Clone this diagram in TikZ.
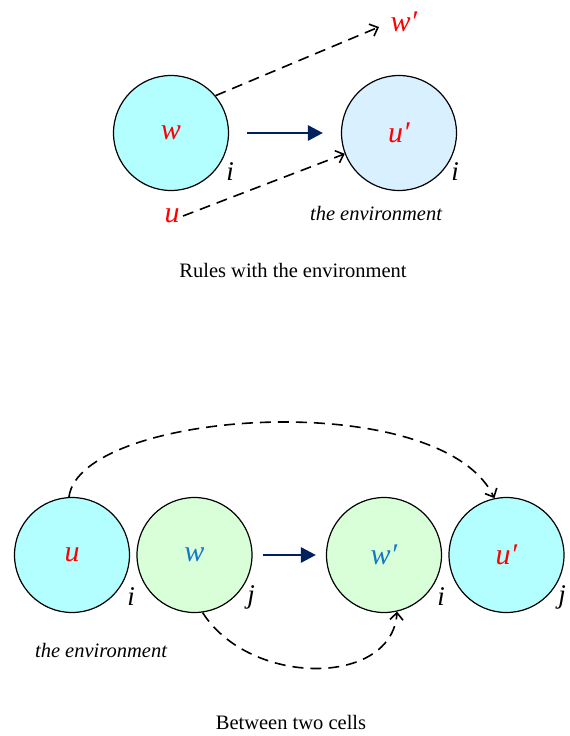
\documentclass[tikz,border=0pt]{standalone}
\usepackage{fontspec}
\setmainfont{Liberation Serif}
\usetikzlibrary{arrows.meta}
\definecolor{cyanfill}{RGB}{179,255,255}
\definecolor{bluefill}{RGB}{216,240,255}
\definecolor{greenfill}{RGB}{217,255,217}
\definecolor{navy}{RGB}{0,32,96}
\definecolor{txtblue}{RGB}{20,120,200}
\begin{document}
\begin{tikzpicture}[x=1pt,y=-1pt,
  cell/.style={circle,draw,line width=1.2pt,minimum size=115pt,inner sep=0pt},
  biglab/.style={font=\fontsize{30}{34}\selectfont\itshape},
  idx/.style={font=\fontsize{27}{30}\selectfont\itshape},
  envtxt/.style={font=\fontsize{20.5}{24}\selectfont\itshape},
  captxt/.style={font=\fontsize{20.5}{24}\selectfont},
  dasharrow/.style={line width=1.6pt,dash pattern=on 11pt off 7pt,-{Straight Barb[length=7pt,width=13pt]}},
  mainarrow/.style={line width=2.8pt,navy,-{Triangle[length=15pt,width=15pt]}}]
\useasboundingbox (0,0) rectangle (570,736);
% top diagram
\node[cell,fill=cyanfill,biglab,text=red] (w) at (171,133) {w};
\node[cell,fill=bluefill,biglab,text=red] (up) at (399,133) {u′};
\node[idx] (wi) at (230,172) {i};
\node[idx] (upi) at (455,172) {i};
\node[biglab,text=red] (wp) at (404,22) {w′};
\node[biglab,text=red] (u) at (172,216) {u};
\node[envtxt] (env1) at (376,213) {the environment};
\node[captxt] (cap1) at (293,270) {Rules with the environment};
\coordinate (wptip) at (379,27);
\draw[dasharrow] (w.40) -- (wptip);
\draw[dasharrow] (u.east) -- (up.201);
\draw[mainarrow,shorten <=18pt,shorten >=18pt] (w) -- (up);
% bottom diagram
\node[cell,fill=cyanfill,biglab,text=red] (ub) at (72,555) {u};
\node[cell,fill=greenfill,biglab,text=txtblue] (wb) at (194.5,555) {w};
\node[cell,fill=greenfill,biglab,text=txtblue] (wpb) at (384,555) {w′};
\node[cell,fill=cyanfill,biglab,text=red] (upb) at (506.5,555) {u′};
\node[idx] (ubi) at (131,597) {i};
\node[idx] (wbi) at (251,597) {j};
\node[idx] (wpbi) at (441,597) {i};
\node[idx] (upbi) at (562,597) {j};
\node[envtxt] (env2) at (101,650) {the environment};
\node[captxt] (cap2) at (291,722) {Between two cells};
\draw[mainarrow,shorten <=10pt,shorten >=10pt] (wb.east) -- (wpb.west);
\draw[dasharrow] (ub.93) .. controls (80,410) and (440,385) .. (upb.102);
\draw[dasharrow] (wb.-82) .. controls (250,687) and (392,687) .. (wpb.-77);
\end{tikzpicture}
\end{document}
